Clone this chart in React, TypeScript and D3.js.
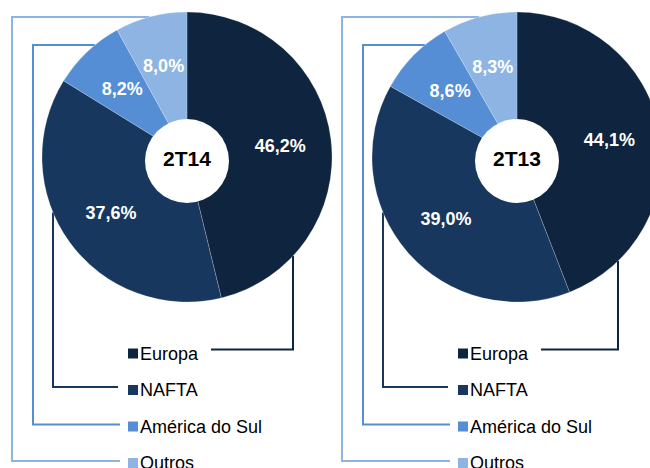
import React from "react";
import * as d3 from "d3";

// categories and shares (%) per quarter
const categories = ["Europa", "NAFTA", "América do Sul", "Outros"];
const colors = ["#0F243E", "#17375E", "#558ED5", "#8DB4E2"];
const periods = ["2T14", "2T13"];
const shares2T14 = [46.2, 37.6, 8.2, 8.0];
const shares2T13 = [44.1, 39.0, 8.6, 8.3];
const seriesValues = [shares2T14, shares2T13];

const width = 650;
const height = 468;
const centersX = [187, 517];
const cy = 157;
const outerR = 145;
const innerR = 43;
const europaOffset = [106, 101]; // where the Europa leader meets the pie
const legendTop = 353.5;
const rowStep = 36.5;

const fmt = (v: number) => d3.format(".1f")(v).replace(".", ",") + "%";

function Donut({ values, label, cx, k }: { values: number[]; label: string; cx: number; k: number }) {
  const pie = d3.pie<number>().sort(null).value((d) => d);
  const arcs = pie(values);
  const arc = d3.arc<d3.PieArcDatum<number>>().innerRadius(0).outerRadius(outerR);
  const labelArc = d3.arc<d3.PieArcDatum<number>>().innerRadius(innerR).outerRadius(outerR);

  const rowY = (i: number) => legendTop + i * rowStep;
  const sqX = cx - 59;

  // leader lines from legend to the pie edge
  const edgeY = (dx: number) => cy + Math.sqrt(outerR * outerR - dx * dx);
  const edgeX = (dy: number) => cx - Math.sqrt(outerR * outerR - dy * dy);
  const eX = cx + europaOffset[k];
  const nX = cx - 134;
  const aX = cx - 154, aTop = 45;
  const oX = cx - 175, oTop = 17;
  const leaders = [
    [[cx + 24, rowY(0) - 4], [eX, rowY(0) - 4], [eX, edgeY(europaOffset[k])]],
    [[sqX - 10, rowY(1) - 3], [nX, rowY(1) - 3], [nX, edgeY(134)]],
    [[sqX - 8, rowY(2) - 2], [aX, rowY(2) - 2], [aX, aTop], [edgeX(cy - aTop), aTop]],
    [[sqX - 8, rowY(3) - 2], [oX, rowY(3) - 2], [oX, oTop], [edgeX(cy - oTop), oTop]],
  ];
  const line = d3.line();

  return (
    <g>
      {leaders.map((pts, i) => (
        <path key={"l" + i} d={line(pts as [number, number][]) || ""} fill="none"
          stroke={colors[i]} strokeWidth={2} />
      ))}
      <g transform={`translate(${cx},${cy})`}>
        {arcs.map((a, i) => (
          <path key={i} d={arc(a) || ""} fill={colors[i]} stroke="#ffffff" strokeOpacity={0.35} strokeWidth={0.6} />
        ))}
        {arcs.map((a, i) => {
          const [x, y] = labelArc.centroid(a);
          return (
            <text key={"t" + i} x={x} y={y} dy="0.36em" textAnchor="middle" fill="#ffffff"
              fontSize={18} fontWeight="bold">{fmt(a.data)}</text>
          );
        })}
        <circle cx={0} cy={4} r={42} fill="#ffffff" />
        <text x={0} y={1} dy="0.36em" textAnchor="middle" fontSize={21} fontWeight="bold" fill="#000">{label}</text>
      </g>
      {categories.map((c, i) => (
        <g key={c}>
          <rect x={sqX} y={rowY(i) - 5} width={10} height={10} fill={colors[i]} />
          <text x={sqX + 12} y={rowY(i) + 6} fontSize={18} fill="#000">{c}</text>
        </g>
      ))}
    </g>
  );
}

export default function App() {
  return (
    <svg width={width} height={height} style={{ position: "absolute", left: 0, top: 0, fontFamily: "'Liberation Sans', Arial, sans-serif" }}>
      <rect width={width} height={height} fill="#ffffff" />
      {periods.map((p, k) => (
        <Donut key={p} values={seriesValues[k]} label={p} cx={centersX[k]} k={k} />
      ))}
    </svg>
  );
}
